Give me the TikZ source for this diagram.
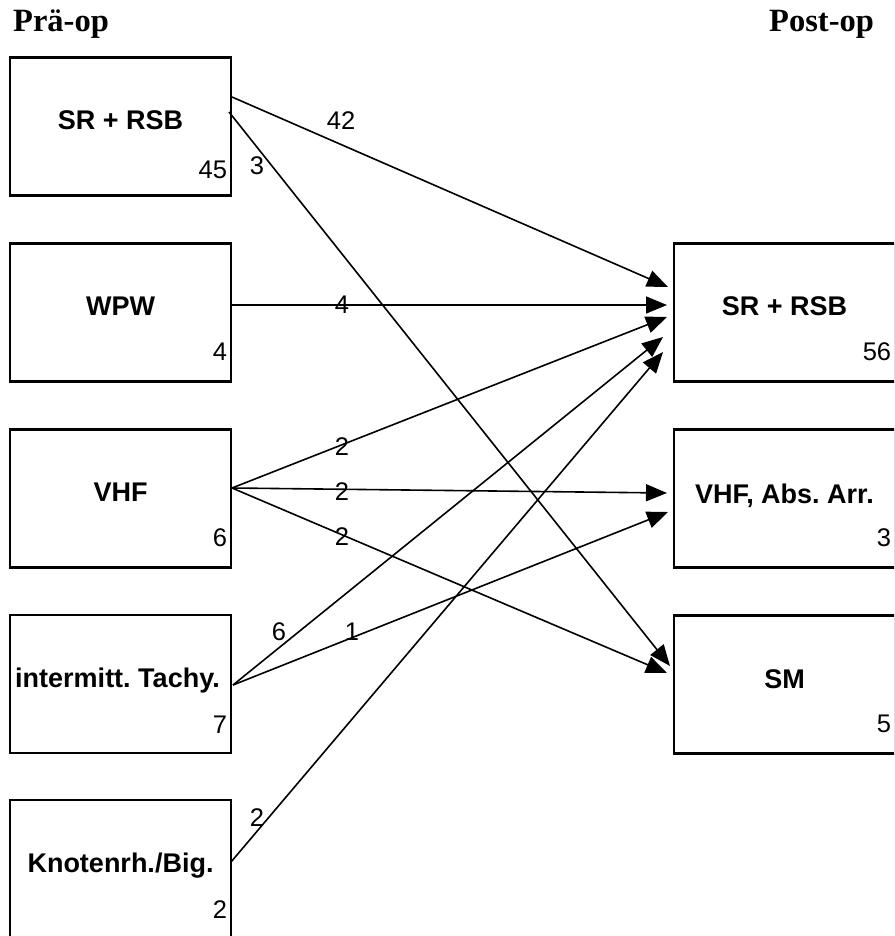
\documentclass[tikz,border=0pt]{standalone}
\usepackage{fontspec}
\setmainfont{Liberation Sans}
\newfontfamily\headfont{Liberation Serif}
\usetikzlibrary{arrows.meta}
\frenchspacing

\begin{document}
\begin{tikzpicture}[x=1pt,y=-1pt,
  box/.style={draw,line width=2.6pt,minimum width=221pt,minimum height=138pt,inner sep=0pt},
  boxname/.style={font=\fontsize{27}{30}\selectfont\bfseries,anchor=base,inner sep=0pt},
  count/.style={font=\fontsize{25.5}{28}\selectfont,anchor=base east,inner sep=0pt},
  flow/.style={line width=1.6pt,-{Triangle[length=21pt,width=17pt]}},
  flowlabel/.style={font=\fontsize{25.5}{28}\selectfont,inner sep=0pt},
  heading/.style={font=\fontsize{32.5}{36}\selectfont\headfont\bfseries,anchor=base west,inner sep=0pt}]

\useasboundingbox (0,0) rectangle (894,936);
\clip (0,0) rectangle (894,936);

% column headings
\node[heading] (hpre) at (13,32) {Prä-op};
\node[heading] (hpost) at (769,32) {Post-op};

% pre-operative boxes
\node[box] (L1) at (120.5,126.5) {};
\node[box] (L2) at (120.5,312.5) {};
\node[box] (L3) at (120.5,498.5) {};
\node[box] (L4) at (120.5,684) {};
\node[box] (L5) at (120.5,869) {};

% post-operative boxes
\node[box] (R1) at (784.5,312.5) {};
\node[box] (R2) at (784.5,498.5) {};
\node[box] (R3) at (784.5,684.5) {};

% box names
\node[boxname] (L1t) at ([yshift=-3.5pt]L1.center) {SR + RSB};
\node[boxname] (L2t) at ([yshift=-2.5pt]L2.center) {WPW};
\node[boxname] (L3t) at ([yshift=-3pt]L3.center) {VHF};
\node[boxname] (L4t) at ([xshift=-3pt,yshift=-3pt]L4.center) {intermitt. Tachy.};
\node[boxname] (L5t) at ([yshift=-3pt]L5.center) {Knotenrh./Big.};
\node[boxname] (R1t) at ([yshift=-2.5pt]R1.center) {SR + RSB};
\node[boxname] (R2t) at ([yshift=-4.5pt]R2.center) {VHF, Abs. Arr.};
\node[boxname] (R3t) at ([yshift=-3.5pt]R3.center) {SM};

% patient counts
\node[count] (L1n) at ([xshift=-5pt,yshift=18pt]L1.south east) {45};
\node[count] (L2n) at ([xshift=-5pt,yshift=22pt]L2.south east) {4};
\node[count] (L3n) at ([xshift=-5pt,yshift=22pt]L3.south east) {6};
\node[count] (L4n) at ([xshift=-5pt,yshift=21pt]L4.south east) {7};
\node[count] (L5n) at ([xshift=-5pt,yshift=21pt]L5.south east) {2};
\node[count] (R1n) at ([xshift=-5pt,yshift=22pt]R1.south east) {56};
\node[count] (R2n) at ([xshift=-5pt,yshift=22pt]R2.south east) {3};
\node[count] (R3n) at ([xshift=-5pt,yshift=22pt]R3.south east) {5};

% connector ports
\coordinate (p1a) at (232,97);
\coordinate (p1b) at (229,112);
\coordinate (p2) at (231,305);
\coordinate (p3) at (232,488);
\coordinate (p4) at (233,685);
\coordinate (p5) at (231,862);
\coordinate (q1a) at (668,287);
\coordinate (q1b) at (667,305);
\coordinate (q1c) at (667,317);
\coordinate (q1d) at (663,337);
\coordinate (q1e) at (663,352);
\coordinate (q2a) at (667,493);
\coordinate (q2b) at (668,512);
\coordinate (q3a) at (670,666);
\coordinate (q3b) at (667,673);

% transitions
\draw[flow] (p1a) -- (q1a);
\draw[flow] (p1b) -- (q3a);
\draw[flow] (p2) -- (q1b);
\draw[flow] (p3) -- (q1c);
\draw[flow] (p3) -- (q2a);
\draw[flow] (p3) -- (q3b);
\draw[flow] (p4) -- (q1d);
\draw[flow] (p4) -- (q2b);
\draw[flow] (p5) -- (q1e);

% transition counts
\node[flowlabel] (f1) at (341,121) {42};
\node[flowlabel] (f2) at (257,166) {3};
\node[flowlabel] (f3) at (342,305) {4};
\node[flowlabel] (f4) at (342,447) {2};
\node[flowlabel] (f5) at (342,492) {2};
\node[flowlabel] (f6) at (342,537) {2};
\node[flowlabel] (f7) at (279,632) {6};
\node[flowlabel] (f8) at (352,632) {1};
\node[flowlabel] (f9) at (257,818) {2};
\end{tikzpicture}
\end{document}
